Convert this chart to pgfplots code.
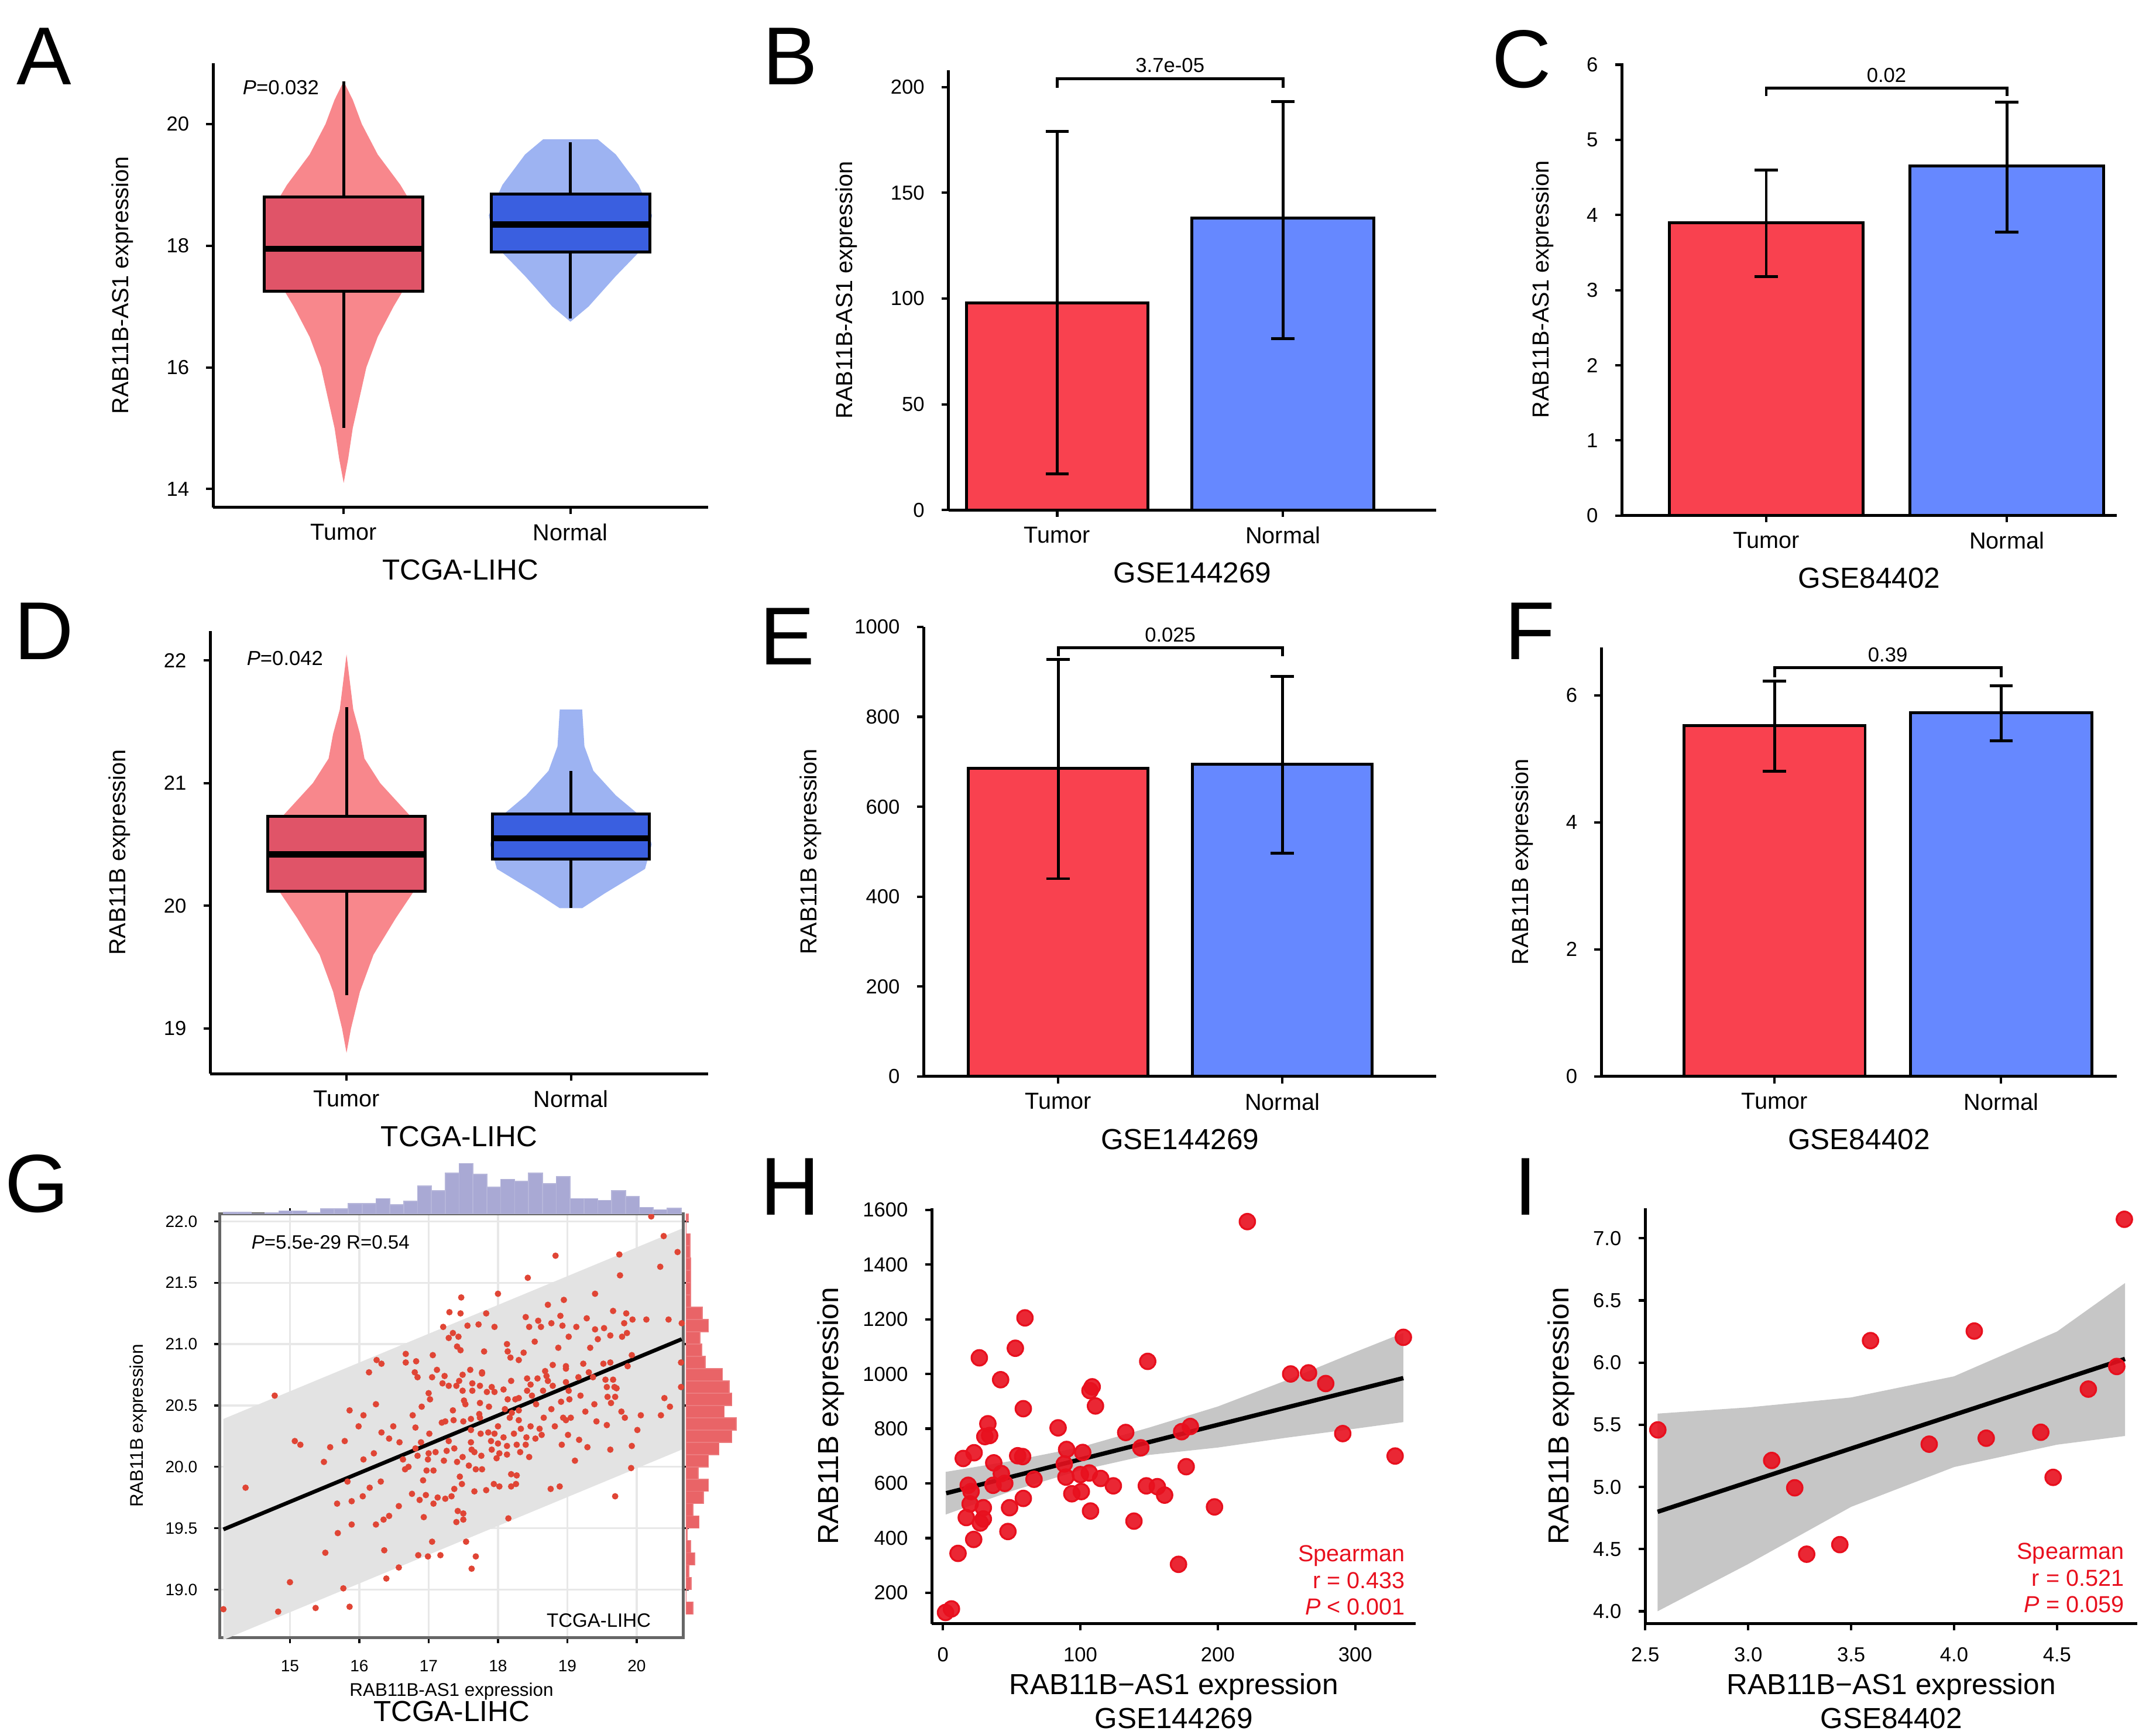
\documentclass[border=0pt]{standalone}
\usepackage{pgfplots}
\pgfplotsset{compat=1.18}
\usepackage{fontspec}
\setmainfont{Liberation Sans}
\definecolor{barred}{HTML}{F9414F}
\definecolor{barblue}{HTML}{6688FF}
\definecolor{vred}{HTML}{F8878C}
\definecolor{bred}{HTML}{E05468}
\definecolor{vblue}{HTML}{9DB3F2}
\definecolor{bblue}{HTML}{3A5FE0}
\definecolor{ptred}{HTML}{E8101E}
\definecolor{gred}{HTML}{E04535}
\definecolor{hpurple}{HTML}{A9A9D4}
\definecolor{hred}{HTML}{E96467}
\newcommand{\tk}{\fontsize{4.2}{5}\selectfont}
\newcommand{\lb}{\fontsize{4.8}{5.5}\selectfont}
\newcommand{\ttl}{\fontsize{6}{7}\selectfont}
\newcommand{\pl}[1]{\fontsize{17}{18}\selectfont #1}
\pgfplotsset{
 base/.style={scale only axis, axis x line*=bottom, axis y line*=left,
  axis line style={line width=0.6pt}, tick style={black,line width=0.5pt},
  major tick length=0.05cm, tick align=outside,
  ticklabel style={font=\tk}, label style={font=\lb},
  /pgf/number format/assume math mode=true, /pgf/number format/1000 sep={}, clip=false},
 cat/.style={base, xtick={1,2}, xticklabels={Tumor,Normal}, x tick label style={font=\lb, yshift=1.5pt},
  xlabel style={font=\ttl, yshift=3pt}},
}
\begin{document}
\begin{tikzpicture}
\useasboundingbox (0,0) rectangle (15.686,12.59);
% ---------- A
\begin{axis}[cat, at={(1.55cm,8.90cm)}, width=3.60cm, height=3.23cm,
 xmin=0.424, xmax=2.606, ymin=13.7, ymax=21.0, ytick={14,16,18,20},
 xlabel={TCGA-LIHC}, ylabel={RAB11B-AS1 expression}]
\addplot[fill=vred, draw=none] coordinates {(1,14.1)(1.02,14.5)(1.04,15)(1.07,15.5)(1.10,16)(1.15,16.5)(1.22,17)(1.30,17.5)(1.35,18)(1.33,18.5)(1.25,19)(1.15,19.5)(1.08,20)(1.04,20.4)(1,20.7)(0.96,20.4)(0.92,20)(0.85,19.5)(0.75,19)(0.67,18.5)(0.65,18)(0.70,17.5)(0.78,17)(0.85,16.5)(0.90,16)(0.93,15.5)(0.96,15)(0.98,14.5)} --cycle;
\addplot[fill=vblue, draw=none] coordinates {(2,16.75)(2.08,17)(2.2,17.5)(2.33,18)(2.36,18.5)(2.3,19)(2.2,19.5)(2.12,19.75)(1.88,19.75)(1.8,19.5)(1.7,19)(1.64,18.5)(1.67,18)(1.8,17.5)(1.92,17)} --cycle;
\addplot[black, line width=0.6pt] coordinates {(1,15.0)(1,20.7)};
\addplot[black, line width=0.6pt] coordinates {(2,16.8)(2,19.7)};
\addplot[fill=bred, draw=black, line width=0.6pt] coordinates {(0.65,17.25)(1.35,17.25)(1.35,18.8)(0.65,18.8)} --cycle;
\addplot[fill=bblue, draw=black, line width=0.6pt] coordinates {(1.65,17.9)(2.35,17.9)(2.35,18.85)(1.65,18.85)} --cycle;
\addplot[black, line width=1.3pt] coordinates {(0.65,17.95)(1.35,17.95)};
\addplot[black, line width=1.3pt] coordinates {(1.65,18.35)(2.35,18.35)};
\node[anchor=west, font=\tk] at (axis cs:0.48,20.6) {\textit{P}=0.032};
\end{axis}
% ---------- D
\begin{axis}[cat, at={(1.53cm,4.78cm)}, width=3.62cm, height=3.22cm,
 xmin=0.393, xmax=2.61, ymin=18.63, ymax=22.24, ytick={19,20,21,22},
 xlabel={TCGA-LIHC}, ylabel={RAB11B expression}]
\addplot[fill=vred, draw=none] coordinates {(1,18.8)(1.02,19)(1.06,19.3)(1.12,19.6)(1.22,19.9)(1.33,20.2)(1.35,20.4)(1.30,20.7)(1.15,21.0)(1.08,21.2)(1.06,21.4)(1.03,21.6)(1,22.05)(0.97,21.6)(0.94,21.4)(0.92,21.2)(0.85,21.0)(0.70,20.7)(0.65,20.4)(0.67,20.2)(0.78,19.9)(0.88,19.6)(0.94,19.3)(0.98,19)} --cycle;
\addplot[fill=vblue, draw=none] coordinates {(2.05,19.98)(2.15,20.1)(2.33,20.3)(2.36,20.5)(2.33,20.7)(2.2,20.9)(2.1,21.1)(2.06,21.3)(2.05,21.6)(1.95,21.6)(1.94,21.3)(1.9,21.1)(1.8,20.9)(1.67,20.7)(1.64,20.5)(1.67,20.3)(1.85,20.1)(1.95,19.98)} --cycle;
\addplot[black, line width=0.6pt] coordinates {(1,19.27)(1,21.62)};
\addplot[black, line width=0.6pt] coordinates {(2,19.98)(2,21.1)};
\addplot[fill=bred, draw=black, line width=0.6pt] coordinates {(0.65,20.12)(1.35,20.12)(1.35,20.73)(0.65,20.73)} --cycle;
\addplot[fill=bblue, draw=black, line width=0.6pt] coordinates {(1.65,20.38)(2.35,20.38)(2.35,20.75)(1.65,20.75)} --cycle;
\addplot[black, line width=1.3pt] coordinates {(0.65,20.42)(1.35,20.42)};
\addplot[black, line width=1.3pt] coordinates {(1.65,20.55)(2.35,20.55)};
\node[anchor=west, font=\tk] at (axis cs:0.48,22.02) {\textit{P}=0.042};
\end{axis}
% ---------- B
\begin{axis}[cat, at={(6.90cm,8.88cm)}, width=3.55cm, height=3.20cm,
 xmin=0.518, xmax=2.68, ymin=0, ymax=208, ytick={0,50,100,150,200},
 xlabel={GSE144269}, ylabel={RAB11B-AS1 expression},
 error bars/error bar style={black,line width=0.6pt},
 error bars/error mark options={rotate=90,mark size=2.4pt,black,line width=0.6pt}]
\addplot[ybar, bar width=0.805, bar shift=0pt, fill=barred, draw=black, line width=0.6pt,
 error bars/.cd, y dir=both, y explicit] coordinates {(1,98) += (0,81) -= (0,81)};
\addplot[ybar, bar width=0.805, bar shift=0pt, fill=barblue, draw=black, line width=0.6pt,
 error bars/.cd, y dir=both, y explicit] coordinates {(2,138) += (0,55) -= (0,57)};
\addplot[black, line width=0.6pt] coordinates {(1,199.5)(1,204)(2,204)(2,199.5)};
\node[anchor=south, font=\tk, inner sep=1pt] at (axis cs:1.5,204) {3.7e-05};
\end{axis}
% ---------- C
\begin{axis}[cat, at={(11.80cm,8.84cm)}, width=3.60cm, height=3.29cm,
 xmin=0.4, xmax=2.457, ymin=0, ymax=6.02, ytick={0,1,2,3,4,5,6},
 xlabel={GSE84402}, ylabel={RAB11B-AS1 expression},
 error bars/error bar style={black,line width=0.6pt},
 error bars/error mark options={rotate=90,mark size=2.4pt,black,line width=0.6pt}]
\addplot[ybar, bar width=0.806, bar shift=0pt, fill=barred, draw=black, line width=0.6pt,
 error bars/.cd, y dir=both, y explicit] coordinates {(1,3.9) += (0,0.70) -= (0,0.72)};
\addplot[ybar, bar width=0.806, bar shift=0pt, fill=barblue, draw=black, line width=0.6pt,
 error bars/.cd, y dir=both, y explicit] coordinates {(2,4.65) += (0,0.85) -= (0,0.88)};
\addplot[black, line width=0.6pt] coordinates {(1,5.58)(1,5.69)(2,5.69)(2,5.58)};
\node[anchor=south, font=\tk, inner sep=1pt] at (axis cs:1.5,5.69) {0.02};
\end{axis}
% ---------- E
\begin{axis}[cat, at={(6.72cm,4.76cm)}, width=3.73cm, height=3.27cm,
 xmin=0.4, xmax=2.687, ymin=0, ymax=1000, ytick={0,200,400,600,800,1000},
 xlabel={GSE144269}, ylabel={RAB11B expression},
 error bars/error bar style={black,line width=0.6pt},
 error bars/error mark options={rotate=90,mark size=2.4pt,black,line width=0.6pt}]
\addplot[ybar, bar width=0.80, bar shift=0pt, fill=barred, draw=black, line width=0.6pt,
 error bars/.cd, y dir=both, y explicit] coordinates {(1,685) += (0,243) -= (0,245)};
\addplot[ybar, bar width=0.80, bar shift=0pt, fill=barblue, draw=black, line width=0.6pt,
 error bars/.cd, y dir=both, y explicit] coordinates {(2,695) += (0,195) -= (0,198)};
\addplot[black, line width=0.6pt] coordinates {(1,935)(1,954)(2,954)(2,935)};
\node[anchor=south, font=\tk, inner sep=1pt] at (axis cs:1.5,954) {0.025};
\end{axis}
% ---------- F
\begin{axis}[cat, at={(11.65cm,4.76cm)}, width=3.75cm, height=3.12cm,
 xmin=0.236, xmax=2.51, ymin=0, ymax=6.75, ytick={0,2,4,6},
 xlabel={GSE84402}, ylabel={RAB11B expression},
 error bars/error bar style={black,line width=0.6pt},
 error bars/error mark options={rotate=90,mark size=2.4pt,black,line width=0.6pt}]
\addplot[ybar, bar width=0.80, bar shift=0pt, fill=barred, draw=black, line width=0.6pt,
 error bars/.cd, y dir=both, y explicit] coordinates {(1,5.52) += (0,0.70) -= (0,0.72)};
\addplot[ybar, bar width=0.80, bar shift=0pt, fill=barblue, draw=black, line width=0.6pt,
 error bars/.cd, y dir=both, y explicit] coordinates {(2,5.72) += (0,0.43) -= (0,0.44)};
\addplot[black, line width=0.6pt] coordinates {(1,6.28)(1,6.43)(2,6.43)(2,6.28)};
\node[anchor=south, font=\tk, inner sep=1pt] at (axis cs:1.5,6.43) {0.39};
\end{axis}
% ---------- G main
\begin{axis}[scale only axis, at={(1.60cm,0.68cm)}, width=3.37cm, height=3.08cm,
 xmin=13.99, xmax=20.67, ymin=18.61, ymax=22.06,
 xtick={15,16,17,18,19,20}, ytick={19,19.5,20,20.5,21,21.5,22},
 yticklabel style={/pgf/number format/.cd,fixed,fixed zerofill,precision=1},
 grid=major, grid style={gray!18, line width=0.4pt},
 axis line style={gray!80!black, line width=0.6pt}, tick style={black,line width=0.4pt},
 major tick length=0.04cm, tick align=outside, clip=false,
 ticklabel style={font=\fontsize{3.4}{4}\selectfont},
 /pgf/number format/assume math mode=true,
 xlabel={RAB11B-AS1 expression},
 xlabel style={font=\fontsize{3.8}{4.5}\selectfont, yshift=4.5pt},
 ylabel={RAB11B expression}, ylabel style={font=\fontsize{3.8}{4.5}\selectfont, yshift=-3pt}]
\addplot[fill=gray!22, draw=none] coordinates {(14.04,20.39)(20.65,21.94)(20.65,20.14)(14.04,18.59)} --cycle;
\addplot[only marks, mark=*, mark size=0.45pt, gred, mark options={draw=none,fill=gred}] coordinates {
(20.21,22.04)(20.39,21.88)(20.59,21.75)(19.75,21.73)(18.83,21.72)(20.34,21.63)(19.76,21.56)(18.43,21.54)(17.47,21.38)(18.0,21.41)(19.40,21.41)(18.72,21.32)(18.95,21.36)(17.30,21.26)(17.46,21.25)(17.83,21.25)(19.66,21.27)(19.85,21.25)(18.40,21.22)(18.90,21.23)(19.28,21.21)(19.94,21.20)(20.14,21.20)(20.46,21.20)(20.65,21.17)(17.21,21.14)(17.56,21.15)(17.72,21.16)(17.95,21.14)(18.45,21.14)(18.58,21.19)(18.62,21.14)(18.77,21.17)(18.93,21.15)(19.13,21.14)(19.40,21.12)(19.53,21.13)(19.82,21.17)(17.35,21.09)(17.29,21.05)(17.43,21.06)(19.86,21.09)(19.79,21.06)(19.62,21.07)(19.44,21.04)(19.02,21.06)(18.53,21.02)(18.13,21.0)(17.41,20.98)(17.46,20.95)(17.80,20.94)(18.87,20.97)(19.33,20.97)(18.14,20.94)(18.37,20.93)(18.18,20.89)(18.30,20.87)(16.67,20.92)(17.06,20.91)(16.25,20.87)(16.32,20.84)(16.67,20.85)(16.82,20.86)(19.93,20.91)(20.64,20.85)(19.52,20.84)(19.62,20.85)(19.87,20.82)(19.23,20.84)(18.98,20.82)(18.98,20.80)(18.79,20.83)(16.14,20.77)(16.80,20.77)(17.12,20.79)(17.23,20.74)(17.49,20.75)(17.60,20.79)(17.77,20.77)(17.77,20.76)(18.68,20.78)(18.70,20.74)(19.16,20.73)(19.31,20.77)(18.98,20.69)(16.84,20.73)(17.05,20.73)(17.20,20.68)(17.29,20.66)(17.40,20.66)(17.44,20.70)(17.63,20.68)(17.91,20.65)(18.19,20.70)(18.42,20.72)(18.47,20.67)(18.57,20.72)(18.72,20.70)(19.37,20.73)(19.55,20.71)(19.66,20.71)(19.57,20.65)(19.68,20.65)(19.71,20.64)(20.64,20.65)(17.0,20.60)(17.49,20.62)(17.63,20.62)(17.74,20.66)(17.84,20.61)(17.95,20.61)(18.08,20.63)(18.30,20.56)(18.42,20.62)(18.49,20.58)(18.65,20.62)(18.79,20.66)(19.02,20.62)(19.19,20.58)(19.58,20.57)(19.69,20.57)(20.40,20.56)(17.02,20.55)(17.51,20.54)(17.74,20.52)(17.87,20.49)(18.14,20.55)(18.25,20.55)(18.55,20.51)(18.91,20.53)(19.03,20.55)(19.39,20.51)(19.63,20.52)(20.48,20.49)(15.86,20.46)(16.24,20.51)(16.90,20.49)(17.35,20.46)(17.53,20.51)(17.73,20.43)(18.10,20.47)(18.20,20.44)(18.30,20.46)(18.77,20.47)(19.26,20.45)(19.78,20.45)(16.06,20.42)(16.77,20.42)(17.24,20.37)(17.36,20.38)(17.50,20.37)(17.61,20.39)(17.74,20.40)(18.17,20.40)(18.30,20.38)(18.66,20.40)(18.94,20.40)(19.05,20.40)(19.83,20.40)(20.06,20.42)(20.35,20.42)(15.99,20.33)(16.49,20.33)(16.81,20.32)(17.19,20.36)(17.61,20.30)(17.86,20.28)(18.00,20.33)(18.33,20.31)(18.47,20.33)(18.60,20.31)(18.82,20.33)(18.98,20.38)(19.42,20.37)(19.57,20.34)(20.01,20.30)(17.01,20.27)(16.32,20.28)(17.75,20.27)(17.95,20.27)(18.08,20.24)(18.23,20.27)(18.41,20.24)(18.63,20.26)(19.01,20.26)(19.17,20.22)(15.07,20.21)(15.15,20.18)(15.58,20.16)(15.79,20.21)(16.43,20.23)(16.58,20.20)(16.89,20.20)(17.29,20.21)(17.61,20.20)(17.90,20.21)(18.00,20.19)(18.27,20.18)(18.54,20.23)(18.92,20.18)(19.29,20.16)(19.93,20.17)(16.81,20.15)(17.26,20.13)(17.37,20.15)(17.62,20.14)(17.91,20.14)(18.13,20.17)(18.40,20.18)(19.62,20.14)(15.49,20.04)(16.06,20.06)(16.21,20.11)(16.84,20.09)(17.0,20.11)(17.10,20.12)(17.49,20.08)(17.66,20.12)(17.76,20.09)(18.02,20.11)(18.13,20.10)(18.32,20.12)(18.45,20.08)(19.11,20.05)(16.63,20.06)(16.99,20.06)(17.22,20.05)(17.41,20.04)(17.98,20.07)(16.66,19.98)(16.71,20.00)(16.97,19.97)(17.07,19.97)(17.58,20.01)(17.68,19.98)(17.77,19.98)(19.92,19.99)(15.83,19.88)(16.31,19.88)(16.92,19.89)(17.45,19.92)(18.19,19.94)(18.27,19.93)(14.36,19.83)(16.15,19.83)(17.94,19.86)(18.02,19.84)(18.19,19.84)(18.26,19.86)(18.76,19.82)(18.89,19.84)(17.48,19.86)(16.05,19.76)(16.76,19.78)(16.87,19.73)(16.96,19.77)(17.07,19.70)(17.13,19.75)(17.24,19.74)(17.33,19.76)(17.37,19.82)(17.66,19.80)(17.83,19.81)(19.69,19.76)(15.68,19.70)(15.89,19.72)(16.57,19.68)(17.42,19.64)(17.50,19.62)(16.35,19.57)(16.43,19.60)(16.93,19.59)(17.40,19.55)(17.50,19.57)(16.24,19.53)(15.89,19.53)(18.15,19.58)(15.69,19.46)(17.05,19.39)(17.54,19.39)(15.51,19.30)(16.36,19.32)(16.85,19.28)(16.99,19.27)(17.17,19.28)(17.68,19.27)(16.57,19.18)(17.62,19.17)(16.39,19.09)(15.0,19.06)(15.77,19.01)(14.04,18.84)(14.83,18.82)(15.37,18.85)(15.86,18.86)(14.78,20.58)};
\addplot[black, line width=0.8pt] coordinates {(14.04,19.49)(20.65,21.04)};
\node[anchor=west, font=\fontsize{4}{5}\selectfont] at (axis cs:14.2,21.83) {\textit{P}=5.5e-29 R=0.54};
\node[anchor=east, font=\fontsize{4}{5}\selectfont] at (axis cs:20.45,18.75) {TCGA-LIHC};
\node[font=\ttl] at (axis description cs:0.5,-0.175) {TCGA-LIHC};
\end{axis}
% G top hist
\begin{axis}[scale only axis, at={(1.60cm,3.76cm)}, width=3.37cm, height=0.42cm,
 xmin=13.99, xmax=20.67, ymin=0, ymax=166, axis lines=none]
\addplot[ybar interval, fill=hpurple, draw=hpurple!85!white, line width=0.2pt] coordinates {
(14.04,5)(14.24,5)(14.44,0)(14.64,4)(14.84,9)(15.04,9)(15.24,4)(15.44,15)(15.64,15)(15.84,30)(16.04,30)(16.24,44)(16.44,27)(16.64,37)(16.84,80)(17.04,67)(17.24,117)(17.44,145)(17.64,114)(17.84,77)(18.04,100)(18.24,94)(18.44,117)(18.64,87)(18.84,107)(19.04,44)(19.24,44)(19.44,39)(19.64,67)(19.84,50)(20.04,19)(20.24,12)(20.44,17)(20.64,17)};
\end{axis}
% G right hist
\begin{axis}[scale only axis, at={(4.99cm,0.68cm)}, width=0.40cm, height=3.08cm,
 xmin=0, xmax=158, ymin=18.61, ymax=22.06, axis lines=none]
\addplot[xbar interval, fill=hred, draw=hred!85!white, line width=0.2pt] coordinates {
(20,18.8)(0,18.9)(15,19.0)(8,19.1)(25,19.2)(13,19.3)(3,19.4)(38,19.5)(20,19.6)(50,19.7)(65,19.8)(35,19.9)(65,20.0)(95,20.1)(132,20.2)(145,20.3)(110,20.4)(132,20.5)(125,20.6)(105,20.7)(55,20.8)(45,20.9)(40,21.0)(65,21.1)(47,21.2)(13,21.3)(13,21.4)(13,21.5)(13,21.6)(12,21.7)(12,21.8)(0,21.9)(7,22.0)(7,22.06)};
\end{axis}
% ---------- H
\begin{axis}[base, at={(6.78cm,0.78cm)}, width=3.52cm, height=3.02cm,
 xmin=-8, xmax=344, ymin=87, ymax=1605, xtick={0,100,200,300}, ytick={200,400,...,1600},
 xlabel={RAB11B\textminus AS1 expression\\GSE144269}, xlabel style={align=center, font=\ttl, yshift=4.5pt},
 ylabel={RAB11B expression}, ylabel style={font=\ttl, yshift=-3pt}]
\addplot[fill=gray!45, draw=none] coordinates {(2,642)(50,682)(100,732)(150,804)(200,881)(250,977)(300,1080)(335,1150)(335,824)(300,800)(250,767)(200,731)(150,704)(100,648)(50,572)(2,486)} --cycle;
\addplot[ptred, only marks, mark=*, mark size=1.6pt, mark options={draw=none, fill=ptred, fill opacity=0.9}] coordinates {
(221.5,1557)(59.7,1205)(52.7,1094)(26.5,1059)(42,979)(335,1134)(149,1046)(253,1000)(266,1004)(278.5,965)(108.6,953)(107,939)(111,883)(58.5,873)(32.7,818)(30.5,771)(34,775)(83.8,803)(133,786)(173.7,789)(180,808)(290.9,782)(329,700)(14.8,691)(22.7,712)(54.4,701)(58,698)(90,724)(101.7,713)(144,730)(37,675)(88.3,671)(42.5,636)(177,661)(18.4,593)(20.5,570)(36.5,593)(45,600)(66.3,615)(89.5,623)(100,632)(106.5,638)(114.8,618)(124,591)(148,591)(156,588)(161.3,557)(93.8,562)(100.7,570)(19.8,525)(29.4,511)(48.5,511)(58.5,545)(107.4,499)(197.6,514)(17,475)(29.4,470)(27.2,455)(139,462)(47.3,424)(22.4,395)(11,344)(171.4,304)(1.9,128)(6.2,141)};
\addplot[black, line width=0.9pt] coordinates {(2.4,564)(335,985)};
\node[anchor=south east, align=right, text=ptred, font=\lb, inner sep=0pt] at (axis cs:337,115) {Spearman\\r = 0.433\\\textit{P} \textless{} 0.001};
\end{axis}
% ---------- I
\begin{axis}[base, at={(11.97cm,0.78cm)}, width=3.58cm, height=3.02cm,
 xmin=2.5, xmax=4.89, ymin=3.9, ymax=7.24, xtick={2.5,3,...,4.5}, ytick={4,4.5,...,7},
 xticklabel style={/pgf/number format/.cd,fixed,fixed zerofill,precision=1},
 yticklabel style={/pgf/number format/.cd,fixed,fixed zerofill,precision=1},
 xlabel={RAB11B\textminus AS1 expression\\GSE84402}, xlabel style={align=center, font=\ttl, yshift=4.5pt},
 ylabel={RAB11B expression}, ylabel style={font=\ttl, yshift=-3pt}]
\addplot[fill=gray!45, draw=none] coordinates {(2.56,5.59)(3.0,5.64)(3.5,5.72)(4.0,5.89)(4.5,6.25)(4.83,6.64)(4.83,5.41)(4.5,5.34)(4.0,5.16)(3.5,4.84)(3.0,4.38)(2.56,4.0)} --cycle;
\addplot[ptred, only marks, mark=*, mark size=1.6pt, mark options={draw=none, fill=ptred, fill opacity=0.9}] coordinates {
(2.561,5.459)(3.114,5.213)(3.226,4.993)(3.284,4.459)(3.445,4.536)(3.594,6.177)(3.879,5.344)(4.098,6.254)(4.156,5.392)(4.421,5.440)(4.481,5.077)(4.652,5.787)(4.790,5.969)(4.827,7.153)};
\addplot[black, line width=0.9pt] coordinates {(2.56,4.80)(4.83,6.03)};
\node[anchor=south east, align=right, text=ptred, font=\lb, inner sep=0pt] at (axis cs:4.83,3.98) {Spearman\\r = 0.521\\\textit{P} = 0.059};
\end{axis}
% panel letters
\node[font=\pl{}] at (0.32,12.18) {A};
\node[font=\pl{}] at (5.75,12.18) {B};
\node[font=\pl{}] at (11.07,12.16) {C};
\node[font=\pl{}] at (0.32,8.0) {D};
\node[font=\pl{}] at (5.73,7.96) {E};
\node[font=\pl{}] at (11.13,8.0) {F};
\node[font=\pl{}] at (0.27,3.98) {G};
\node[font=\pl{}] at (5.75,3.96) {H};
\node[font=\pl{}] at (11.10,3.96) {I};
\end{tikzpicture}
\end{document}
